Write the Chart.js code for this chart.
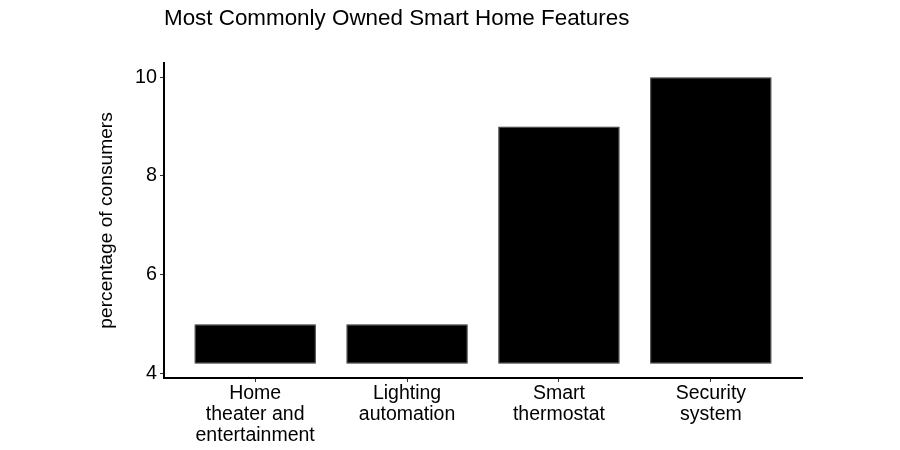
<!DOCTYPE html>
<html>
<head>
<meta charset="utf-8">
<script src="https://cdn.jsdelivr.net/npm/chart.js@4"></script>
<style>
  html, body { margin: 0; padding: 0; background: #fff; }
  #wrap { width: 900px; height: 450px; }
</style>
</head>
<body>
<div id="wrap"><canvas id="Bar__canvas_1"></canvas></div>
<script>
// data
var categories = [
    ['Home', 'theater and', 'entertainment'],
    ['Lighting', 'automation'],
    ['Smart', 'thermostat'],
    ['Security', 'system']
];
var shares = [5, 5, 9, 10];
var barBase = 4.2;
var yTicks = [4, 6, 8, 10];

var FONT = "'Liberation Sans', Arial, sans-serif";

function bar_status_1() {
    var ctr = document.getElementById('Bar__canvas_1');
    var pts = shares.map(function (v, i) {
        return { x: i, y: [barBase, v] };
    });
    var bar = new Chart(ctr, {
        type: 'bar',
        data: {
            datasets: [{
                data: pts,
                backgroundColor: '#000',
                borderColor: '#333',
                borderWidth: 1,
                borderSkipped: false,
                barPercentage: 0.8,
                categoryPercentage: 1
            }]
        },
        options: {
            responsive: true,
            maintainAspectRatio: false,
            animation: false,
            layout: { padding: { left: 0, right: 98, top: 0, bottom: 0 } },
            plugins: {
                legend: { display: false },
                tooltip: { enabled: false },
                title: {
                    display: true,
                    text: 'Most Commonly Owned Smart Home Features',
                    align: 'start',
                    fullSize: false,
                    color: '#000',
                    font: { family: FONT, size: 22.4, weight: 'normal' },
                    padding: { top: 5, bottom: 31 }
                }
            },
            scales: {
                x: {
                    type: 'linear',
                    min: -0.6,
                    max: 3.6,
                    offset: false,
                    afterBuildTicks: function (s) {
                        s.ticks = categories.map(function (c, i) { return { value: i }; });
                    },
                    afterFit: function (s) { s.height = 72; },
                    ticks: {
                        color: '#000',
                        padding: 1,
                        maxRotation: 0,
                        autoSkip: false,
                        font: { family: FONT, size: 19.5, lineHeight: 1.08 },
                        callback: function (v) { return categories[v]; }
                    },
                    grid: { offset: false, drawOnChartArea: false, drawTicks: true, tickLength: 4, tickColor: '#333', lineWidth: 1 },
                    border: { display: true, color: '#000', width: 2 }
                },
                y: {
                    min: 3.91,
                    max: 10.29,
                    afterBuildTicks: function (s) {
                        s.ticks = yTicks.map(function (t) { return { value: t }; });
                    },
                    afterFit: function (s) { s.width = 164; },
                    title: {
                        display: true,
                        text: 'percentage of consumers',
                        color: '#000',
                        font: { family: FONT, size: 19.2 },
                        padding: { top: 95, bottom: 0 }
                    },
                    ticks: {
                        color: '#000',
                        padding: 3,
                        font: { family: FONT, size: 19.8 }
                    },
                    grid: { drawOnChartArea: false, drawTicks: true, tickLength: 4, tickColor: '#333', lineWidth: 1 },
                    border: { display: true, color: '#000', width: 2 }
                }
            }
        }
    });
}

bar_status_1();
</script>
</body>
</html>
